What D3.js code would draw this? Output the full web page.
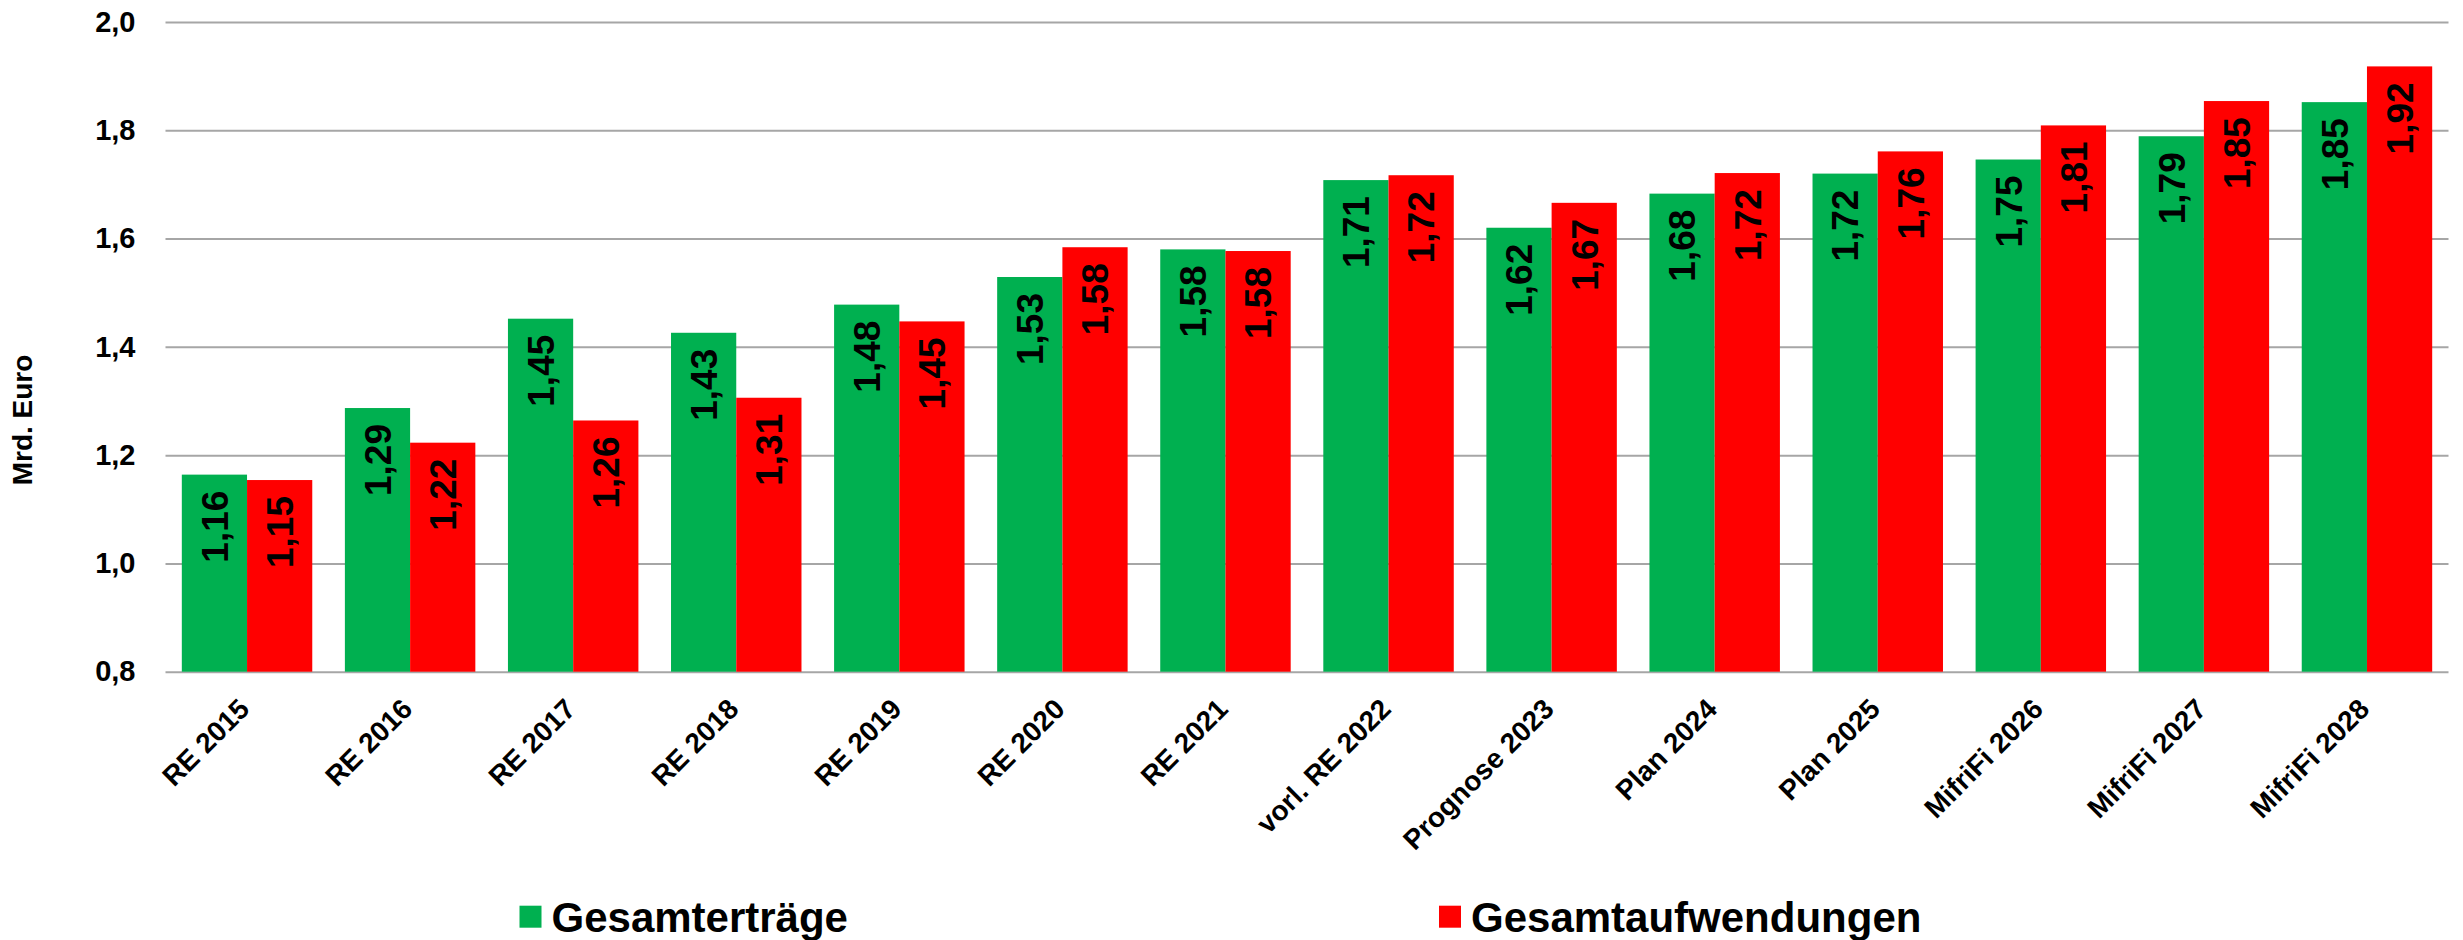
<!DOCTYPE html>
<html>
<head>
<meta charset="utf-8">
<script src="https://cdnjs.cloudflare.com/ajax/libs/d3/7.8.5/d3.min.js"></script>
<style>
  body { margin: 0; background: #fff; }
  text { font-family: "Liberation Sans", Arial, sans-serif; font-weight: bold; fill: #000; }
</style>
</head>
<body>
<div class="chart"></div>
<script>
// Data
var categories = ["RE 2015", "RE 2016", "RE 2017", "RE 2018", "RE 2019", "RE 2020", "RE 2021",
  "vorl. RE 2022", "Prognose 2023", "Plan 2024", "Plan 2025", "MifriFi 2026", "MifriFi 2027", "MifriFi 2028"];
var seriesNames = ["Gesamterträge", "Gesamtaufwendungen"];
var ertraege = [1.164, 1.287, 1.452, 1.426, 1.478, 1.529, 1.580, 1.708, 1.620, 1.683, 1.720, 1.746, 1.789, 1.852];
var aufwendungen = [1.154, 1.223, 1.264, 1.306, 1.447, 1.584, 1.577, 1.717, 1.666, 1.721, 1.761, 1.809, 1.854, 1.918];
var yTicks = [0.8, 1.0, 1.2, 1.4, 1.6, 1.8, 2.0];
var colors = ["#00B050", "#FF0000"];

var width = 2463, height = 940;
// plot area (note: "top" is reserved on window, so use other names)
var plotLeft = 165.5, plotRight = 2448.5, plotTop = 22, plotBottom = 671.7;

var de = d3.formatLocale({ decimal: ",", thousands: ".", grouping: [3], currency: ["", " €"] });
var fmt1 = de.format(".1f");
var fmt2 = de.format(".2f");

var svg = d3.select(".chart").append("svg")
  .attr("width", width)
  .attr("height", height);

// Scales
var x0 = d3.scaleBand().domain(categories).range([plotLeft, plotRight]).paddingInner(0.2).paddingOuter(0.1);
var x1 = d3.scaleBand().domain(seriesNames).range([0, x0.bandwidth()]).padding(0);
var y = d3.scaleLinear().domain([0.8, 2.0]).range([plotBottom, plotTop]);
var color = d3.scaleOrdinal().domain(seriesNames).range(colors);

var rows = categories.map(function(c, i) {
  return { cat: c, values: [ { name: seriesNames[0], v: ertraege[i] }, { name: seriesNames[1], v: aufwendungen[i] } ] };
});

// Y axis with gridlines
var yAxis = svg.append("g")
  .attr("transform", "translate(" + plotLeft + ",0)")
  .call(d3.axisLeft(y).tickValues(yTicks).tickFormat(fmt1).tickSize(-(plotRight - plotLeft)).tickPadding(30));
yAxis.select(".domain").remove();
yAxis.selectAll(".tick line").attr("stroke", "#A6A6A6").attr("stroke-width", 2);
yAxis.selectAll(".tick text").style("font-size", "29px");

// Bars
var groups = svg.selectAll("g.cat").data(rows)
  .enter().append("g")
    .attr("class", "cat")
    .attr("transform", function(d) { return "translate(" + x0(d.cat) + ",0)"; });

groups.selectAll("rect").data(function(d) { return d.values; })
  .enter().append("rect")
    .attr("x", function(d) { return x1(d.name); })
    .attr("y", function(d) { return y(d.v); })
    .attr("width", x1.bandwidth())
    .attr("height", function(d) { return plotBottom - y(d.v); })
    .attr("fill", function(d) { return color(d.name); });

// Value labels, rotated inside the top of each bar
groups.selectAll("text.val").data(function(d) { return d.values; })
  .enter().append("text")
    .attr("class", "val")
    .attr("transform", function(d) {
      return "translate(" + (x1(d.name) + x1.bandwidth() / 2) + "," + (y(d.v) + 16) + ") rotate(-90)";
    })
    .attr("text-anchor", "end")
    .attr("dy", "0.36em")
    .style("font-size", "37px")
    .text(function(d) { return fmt2(d.v); });

// X axis labels
var xAxis = svg.append("g")
  .attr("transform", "translate(0," + plotBottom + ")")
  .call(d3.axisBottom(x0).tickSize(0));
xAxis.select(".domain").remove();
xAxis.selectAll(".tick text")
  .attr("x", 0).attr("y", 0).attr("dy", 0)
  .attr("text-anchor", "end")
  .attr("transform", "translate(4,39) rotate(-45)")
  .style("font-size", "28px");

// Y axis title
svg.append("text")
  .attr("transform", "translate(32,420) rotate(-90)")
  .attr("text-anchor", "middle")
  .style("font-size", "28px")
  .text("Mrd. Euro");

// Legend
var legendX = [519.5, 1439];
var legend = svg.selectAll("g.legend").data(seriesNames)
  .enter().append("g")
    .attr("class", "legend")
    .attr("transform", function(d, i) { return "translate(" + legendX[i] + ",0)"; });

legend.append("rect")
  .attr("x", 0).attr("y", 905.7)
  .attr("width", 22).attr("height", 22)
  .attr("fill", function(d) { return color(d); });

legend.append("text")
  .attr("x", 32).attr("y", 931.5)
  .style("font-size", "42px")
  .text(function(d) { return d; });
</script>
</body>
</html>
